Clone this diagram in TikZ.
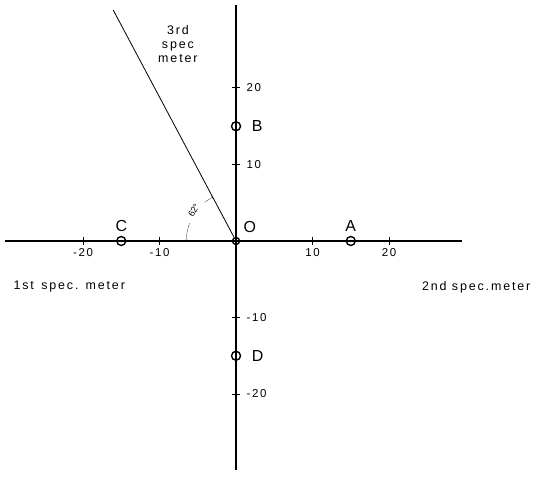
\documentclass[tikz,border=0pt]{standalone}
\usepackage{fontspec}
\setmainfont{Liberation Sans}
\newfontfamily\spacedfont[LetterSpace=15]{Liberation Sans}
\usetikzlibrary{positioning}

\begin{document}
\begin{tikzpicture}[x=7.65bp,y=7.65bp,
  axis/.style={line width=2.4bp},
  pt/.style={circle,draw,line width=1.4bp,minimum size=9bp,inner sep=0pt},
  tickmark/.style={line width=1bp},
  lbl/.style={font=\fontsize{16}{16}\selectfont},
  num/.style={font=\spacedfont\fontsize{11.5}{11.5}\selectfont},
  caption/.style={font=\spacedfont\fontsize{12.5}{14}\selectfont,align=center}]
\useasboundingbox (-30.85,-30.72) rectangle (39.6,31.5);
% Axes
\coordinate (xl) at (-30.2,0);
\coordinate (xr) at (29.5,0);
\coordinate (yt) at (0,30.8);
\coordinate (yb) at (0,-29.9);
\draw[axis] (xl) -- (xr);
\draw[axis] (yb) -- (yt);
% Ticks
\foreach \t in {-20,-10,10,20} {
  \draw[tickmark] (\t,-0.5) -- (\t,0.5);
  \draw[tickmark] (-0.5,\t) -- (0.5,\t);
}
\node[num,below=4bp] (nx1) at (-20,0) {-20};
\node[num,below=4bp] (nx2) at (-10,0) {-10};
\node[num,below=4bp] (nx3) at (10,0) {10};
\node[num,below=4bp] (nx4) at (20,0) {20};
\node[num,right=7bp] (ny1) at (0,20) {20};
\node[num,right=7bp] (ny2) at (0,10) {10};
\node[num,right=7bp] (ny3) at (0,-10) {-10};
\node[num,right=7bp] (ny4) at (0,-20) {-20};
% Points
\node[pt,minimum size=7bp] (O) at (0,0) {};
\node[pt] (A) at (15,0) {};
\node[pt] (B) at (0,15) {};
\node[pt] (C) at (-15,0) {};
\node[pt] (D) at (0,-15) {};
\node[lbl,above=1bp of A] (lA) {A};
\node[lbl,right=7bp of B] (lB) {B};
\node[lbl,above=1bp of C] (lC) {C};
\node[lbl,right=7bp of D] (lD) {D};
\node[lbl] (lO) at (1.8,1.8) {O};
% 3rd spectrometer direction
\coordinate (s3) at (118:34.2);
\draw[line width=0.8bp] (O) -- (s3);
\draw[very thin,<-] (180:6.5) arc (180:159:6.5);
\draw[very thin,->] (129:6.5) arc (129:118:6.5);
\node[rotate=60,inner sep=1pt,font=\fontsize{9}{9}\selectfont] (ang) at (144:6.8) {62°};
% Spectrometer labels
\node[caption] (t3) at (-7.6,25.8) {3rd\\spec\\meter};
\node[caption] (t1) at (-21.8,-6.0) {1st\, spec. meter};
\node[caption] (t2) at (31.4,-6.0) {2nd spec.meter};
\end{tikzpicture}
\end{document}
